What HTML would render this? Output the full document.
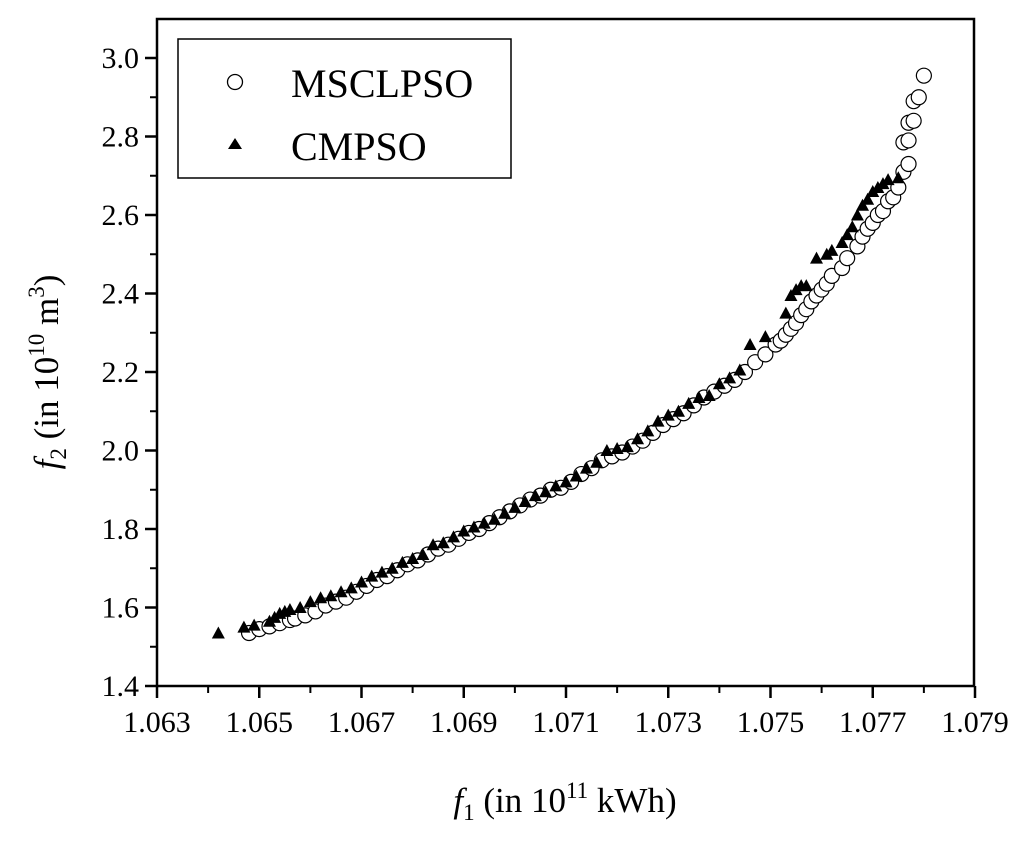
<!DOCTYPE html>
<html><head><meta charset="utf-8"><style>
body{margin:0;background:#fff;}
svg text{font-family:"Liberation Serif",serif;fill:#000;}
</style></head><body>
<svg id="chart" width="1024" height="839" viewBox="0 0 1024 839" xmlns="http://www.w3.org/2000/svg">
<rect x="0" y="0" width="1024" height="839" fill="#fff"/>
<g id="marks"></g>
<rect x="157" y="19" width="817" height="667" fill="none" stroke="#000" stroke-width="2.5"/>
<g id="axes"></g>
<g>
<rect x="178" y="39" width="333" height="139" fill="#fff" stroke="#000" stroke-width="1.5"/>
<circle cx="235" cy="82" r="7.5" fill="#fff" stroke="#000" stroke-width="1.3"/>
<text x="291" y="97" font-size="40">MSCLPSO</text>
<polygon points="235,138 242,149 228,149" fill="#000"/>
<text x="291" y="160" font-size="40">CMPSO</text>
</g>
<text x="565" y="812" font-size="35" text-anchor="middle"><tspan font-style="italic">f</tspan><tspan font-size="23" dy="8">1</tspan><tspan dy="-8"> (in 10</tspan><tspan font-size="23" dy="-14">11</tspan><tspan dy="14"> kWh)</tspan></text>
<text transform="translate(58,372) rotate(-90)" font-size="35" text-anchor="middle"><tspan font-style="italic">f</tspan><tspan font-size="23" dy="8">2</tspan><tspan dy="-8"> (in 10</tspan><tspan font-size="23" dy="-14">10</tspan><tspan dy="14"> m</tspan><tspan font-size="23" dy="-14">3</tspan><tspan dy="14">)</tspan></text>
</svg>
<script>
const xTicks=[1.063,1.065,1.067,1.069,1.071,1.073,1.075,1.077,1.079];
const xTickLabels=["1.063","1.065","1.067","1.069","1.071","1.073","1.075","1.077","1.079"];
const yTicks=[1.4,1.6,1.8,2.0,2.2,2.4,2.6,2.8,3.0];
const yTickLabels=["1.4","1.6","1.8","2.0","2.2","2.4","2.6","2.8","3.0"];
const msclpsoX=[1.0648,1.0650,1.0652,1.0654,1.0656,1.0657,1.0659,1.0661,1.0663,1.0665,1.0667,1.0669,1.0671,1.0673,1.0675,1.0677,1.0679,1.0681,1.0683,1.0685,1.0687,1.0689,1.0691,1.0693,1.0695,1.0697,1.0699,1.0701,1.0703,1.0705,1.0707,1.0709,1.0711,1.0713,1.0715,1.0717,1.0719,1.0721,1.0723,1.0725,1.0727,1.0729,1.0731,1.0733,1.0735,1.0737,1.0739,1.0741,1.0743,1.0745,1.0747,1.0749,1.0751,1.0752,1.0753,1.0754,1.0755,1.0756,1.0757,1.0758,1.0759,1.0760,1.0761,1.0762,1.0764,1.0765,1.0767,1.0768,1.0769,1.0770,1.0771,1.0772,1.0773,1.0774,1.0775,1.0776,1.0777,1.0776,1.0777,1.0777,1.0778,1.0778,1.0779,1.0780];
const msclpsoY=[1.535,1.545,1.552,1.56,1.568,1.572,1.58,1.59,1.605,1.615,1.625,1.64,1.655,1.67,1.68,1.695,1.71,1.72,1.735,1.75,1.76,1.775,1.79,1.80,1.815,1.83,1.845,1.86,1.875,1.885,1.9,1.905,1.92,1.94,1.955,1.975,1.985,1.995,2.01,2.025,2.045,2.065,2.08,2.095,2.115,2.135,2.15,2.165,2.18,2.2,2.225,2.245,2.27,2.28,2.295,2.31,2.325,2.345,2.36,2.38,2.395,2.41,2.425,2.445,2.465,2.49,2.52,2.545,2.565,2.58,2.6,2.61,2.635,2.645,2.67,2.71,2.73,2.785,2.79,2.835,2.84,2.89,2.9,2.955];
const cmpsoX=[1.0642,1.0647,1.0649,1.0652,1.0653,1.0654,1.0655,1.0656,1.0658,1.0660,1.0662,1.0664,1.0666,1.0668,1.0670,1.0672,1.0674,1.0676,1.0678,1.0680,1.0682,1.0684,1.0686,1.0688,1.0690,1.0692,1.0694,1.0696,1.0698,1.0700,1.0702,1.0704,1.0706,1.0708,1.0710,1.0712,1.0714,1.0716,1.0718,1.0720,1.0722,1.0724,1.0726,1.0728,1.0730,1.0732,1.0734,1.0736,1.0738,1.0740,1.0742,1.0744,1.0746,1.0749,1.0753,1.0754,1.0755,1.0756,1.0757,1.0759,1.0761,1.0762,1.0764,1.0765,1.0766,1.0767,1.0768,1.0769,1.0770,1.0771,1.0772,1.0773,1.0775];
const cmpsoY=[1.535,1.55,1.555,1.565,1.575,1.585,1.59,1.595,1.6,1.615,1.625,1.63,1.64,1.65,1.665,1.68,1.69,1.70,1.715,1.725,1.735,1.76,1.765,1.78,1.795,1.805,1.815,1.825,1.84,1.855,1.87,1.885,1.895,1.91,1.92,1.935,1.955,1.97,2.0,2.005,2.01,2.03,2.05,2.075,2.09,2.1,2.12,2.135,2.14,2.17,2.185,2.205,2.27,2.29,2.35,2.395,2.41,2.42,2.42,2.49,2.50,2.51,2.53,2.55,2.57,2.6,2.625,2.64,2.66,2.67,2.68,2.69,2.695];

const NS="http://www.w3.org/2000/svg";
function sx(v){return 157+(v-1.063)/0.016*818;}
function sy(v){return 686-(v-1.4)/1.6*628;}
function mk(tag,attrs,parent){const e=document.createElementNS(NS,tag);for(const k in attrs)e.setAttribute(k,attrs[k]);parent.appendChild(e);return e;}
const axes=document.getElementById('axes');
const marks=document.getElementById('marks');
xTicks.forEach((t,i)=>{
  const x=sx(t);
  const l=mk('line',{x1:x,x2:x,y1:686,y2:698,stroke:'#000','stroke-width':2.5},axes);
  
  
  if(i<xTicks.length-1){const xm=sx(t+0.001);
    const m=mk('line',{x1:xm,x2:xm,y1:686,y2:693,stroke:'#000','stroke-width':2},axes);
    
    }
  const tx=mk('text',{x:x,y:732,'font-size':30,'text-anchor':'middle'},axes);
  tx.textContent=xTickLabels[i];
  
  
});
yTicks.forEach((t,i)=>{
  const y=sy(t);
  const l=mk('line',{x1:145,x2:157,y1:y,y2:y,stroke:'#000','stroke-width':2.5},axes);
  
  
  if(i<yTicks.length-1){const ym=sy(t+0.1);
    const m=mk('line',{x1:150,x2:157,y1:ym,y2:ym,stroke:'#000','stroke-width':2},axes);
    
    }
  const tx=mk('text',{x:139,y:y+10,'font-size':30,'text-anchor':'end'},axes);
  tx.textContent=yTickLabels[i];
  
  
});
msclpsoX.forEach((v,i)=>{
  const c=mk('circle',{cx:sx(v),cy:sy(msclpsoY[i]),r:7.5,fill:'#fff',stroke:'#000','stroke-width':1.2},marks);
  
  
});
cmpsoX.forEach((v,i)=>{
  const x=sx(v),y=sy(cmpsoY[i]);
  const p=mk('polygon',{points:`${x},${y-6.5} ${x+6.5},${y+5.5} ${x-6.5},${y+5.5}`,fill:'#000'},marks);
  
  
});
</script>
</body></html>
